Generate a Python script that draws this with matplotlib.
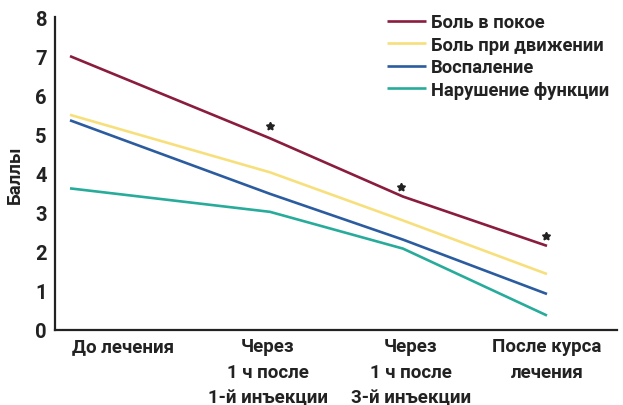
import matplotlib
matplotlib.use("Agg")
import matplotlib.pyplot as plt

# Data
x_points = [70, 270, 403, 547]
tick_positions = [123, 268, 411, 547]
tick_labels = ["До лечения", "Через\n1 ч после\n1-й инъекции", "Через\n1 ч после\n3-й инъекции", "После курса\nлечения"]
series_names = ["Боль в покое", "Боль при движении", "Воспаление", "Нарушение функции"]
pain_rest = [7.0, 4.9, 3.41, 2.15]
pain_move = [5.5, 4.03, 2.8, 1.43]
inflammation = [5.36, 3.48, 2.31, 0.92]
dysfunction = [3.62, 3.02, 2.08, 0.37]
star_x = [270, 401, 546]
star_y = [5.22, 3.65, 2.4]
colors = ["#8a1c3e", "#f7e07c", "#2b5c9f", "#27ab9a"]

font = ["Roboto", "DejaVu Sans"]
plt.rcParams['font.family'] = font

fig = plt.figure(figsize=(6.23, 4.06), dpi=100)
ax = fig.add_axes([55/623, 75/406, (617-55)/623, (331-18)/406])

for vals, name, c in zip([pain_rest, pain_move, inflammation, dysfunction], series_names, colors):
    ax.plot(x_points, vals, color=c, lw=1.9, label=name, solid_capstyle='butt')

ax.plot(star_x, star_y, linestyle='none', marker=(5, 1, 0), color='#222222', markersize=6)

ax.set_xlim(55, 617)
ax.set_ylim(0, 8)
ax.set_yticks(range(0, 9))
ax.set_yticklabels([str(i) for i in range(0, 9)], fontsize=14.5, fontweight='bold', color='#222222')
ax.set_xticks(tick_positions)
ax.set_xticklabels(tick_labels, fontsize=13.5, fontweight='bold', color='#222222', linespacing=1.55)
ax.tick_params(axis='both', length=0, pad=6)
ax.tick_params(axis='x', pad=5)
ax.set_ylabel("Баллы", fontsize=13.5, fontweight='bold', color='#222222', labelpad=8)
for s in ['top', 'right']:
    ax.spines[s].set_visible(False)
for s in ['left', 'bottom']:
    ax.spines[s].set_linewidth(1.6)
    ax.spines[s].set_color('#222222')

leg = ax.legend(loc='upper left', bbox_to_anchor=((380-55)/562, 1.035), frameon=False,
                prop={'family': font, 'size': 13.2, 'weight': 'bold'},
                handlelength=2.1, handletextpad=0.3, labelspacing=0.24, borderaxespad=0)
for t in leg.get_texts():
    t.set_color('#222222')

fig.savefig("out.png", dpi=100)
